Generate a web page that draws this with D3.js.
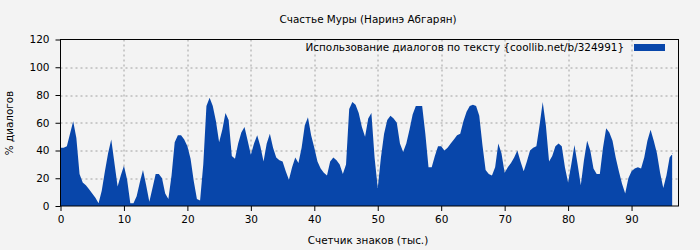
<!DOCTYPE html>
<html lang="ru">
<head>
    <meta charset="UTF-8">
    <title>Счастье Муры</title>
    <script src="https://d3js.org/d3.v7.min.js"></script>
    <style>
        body { margin: 0; background: #f3f3f3; }
        text { font-family: "DejaVu Sans", sans-serif; fill: #000; }
    </style>
</head>
<body>
<script>
    // character counter, thousands (step 0.5)
    var counter = d3.range(0, 97, 0.5);

    // share of dialogue, %
    var dialogs = [
        42, 42, 43, 52, 61, 49, 23, 17, 15, 12,
        9, 6, 2, 11, 25, 38, 48, 31, 14, 22,
        29, 19, 2, 2, 7, 17, 26, 15, 3, 13,
        23, 23, 20, 9, 5, 22, 46, 51, 51, 48,
        43, 34, 18, 5, 4, 30, 72, 78, 72, 61,
        46, 55, 67, 62, 36, 34, 45, 53, 57, 47,
        37, 45, 51, 43, 32, 45, 52, 42, 35, 33,
        32, 25, 19, 28, 35, 31, 42, 58, 64, 51,
        42, 32, 27, 24, 22, 32, 35, 33, 30, 23,
        30, 70, 75, 73, 67, 57, 50, 63, 67, 35,
        13, 35, 52, 62, 65, 63, 60, 45, 39, 45,
        55, 66, 72, 72, 72, 52, 28, 28, 36, 43,
        43, 40, 42, 45, 48, 51, 52, 61, 68, 72,
        73, 72, 65, 44, 26, 23, 22, 28, 45, 38,
        24, 28, 31, 35, 40, 32, 25, 32, 40, 42,
        43, 58, 75, 58, 32, 36, 43, 45, 43, 28,
        17, 30, 44, 30, 15, 33, 47, 40, 27, 23,
        23, 42, 56, 53, 47, 35, 25, 16, 9, 20,
        25, 27, 28, 27, 35, 47, 55, 47, 38, 24,
        13, 22, 35, 38
    ];

    var xTicks = [0, 10, 20, 30, 40, 50, 60, 70, 80, 90];
    var yTicks = [0, 20, 40, 60, 80, 100, 120];

    var title = "Счастье Муры (Наринэ Абгарян)";
    var legendLabel = "Использование диалогов по тексту {coollib.net/b/324991}";

    var margin = {top: 39.5, right: 21.5, bottom: 44, left: 60.5},
        width = 700 - margin.left - margin.right,
        height = 250 - margin.top - margin.bottom;

    var data = counter.slice(0, dialogs.length).map(function(c, i) { return [c, dialogs[i]]; });
    var lastX = 96.4;

    var xScale = d3.scaleLinear().domain([0, 97.4]).range([0, width]);
    var yScale = d3.scaleLinear().domain([0, 120]).range([height, 0]);

    var svg = d3.select("body").append("svg")
        .attr("width", 700)
        .attr("height", 250);

    var g = svg.append("g")
        .attr("transform", "translate(" + margin.left + "," + margin.top + ")");

    // grid
    g.append("g").selectAll("line")
        .data(yTicks.slice(1, -1))
        .enter().append("line")
        .attr("x1", 0).attr("x2", width)
        .attr("y1", function(d) { return Math.round(yScale(d)) + 0.5; })
        .attr("y2", function(d) { return Math.round(yScale(d)) + 0.5; })
        .attr("stroke", "#a0a0a0")
        .attr("stroke-dasharray", "2,3");

    g.append("g").selectAll("line")
        .data(xTicks.slice(1))
        .enter().append("line")
        .attr("y1", 0).attr("y2", height)
        .attr("x1", function(d) { return Math.round(xScale(d)) + 0.5; })
        .attr("x2", function(d) { return Math.round(xScale(d)) + 0.5; })
        .attr("stroke", "#a0a0a0")
        .attr("stroke-dasharray", "2,3");

    // area
    var pts = data.concat([[lastX, dialogs[dialogs.length - 1]]]);
    var area = d3.area()
        .x(function(d) { return xScale(d[0]); })
        .y0(yScale(0))
        .y1(function(d) { return yScale(d[1]); });

    g.append("path")
        .datum(pts)
        .attr("d", area)
        .attr("fill", "#0846aa");

    // frame
    g.append("rect")
        .attr("x", 0).attr("y", 0)
        .attr("width", width).attr("height", height)
        .attr("fill", "none")
        .attr("stroke", "#000");

    // axes
    var x_axis = d3.axisBottom(xScale).tickValues(xTicks).tickSize(5).tickPadding(5);
    var y_axis = d3.axisLeft(yScale).tickValues(yTicks).tickSize(5).tickPadding(6);

    g.append("g")
        .attr("transform", "translate(0," + height + ")")
        .call(x_axis)
        .call(function(s) { s.select(".domain").remove(); })
        .selectAll("text")
        .style("font-size", "10.5px")
        .style("font-family", "DejaVu Sans");

    g.append("g")
        .call(y_axis)
        .call(function(s) { s.select(".domain").remove(); })
        .selectAll("text")
        .style("font-size", "10.5px")
        .style("font-family", "DejaVu Sans");

    // title
    svg.append("text")
        .attr("x", 368)
        .attr("y", 23)
        .attr("text-anchor", "middle")
        .style("font-size", "10.4px")
        .text(title);

    // legend
    svg.append("text")
        .attr("x", 624)
        .attr("y", 51)
        .attr("text-anchor", "end")
        .style("font-size", "10.4px")
        .text(legendLabel);

    svg.append("rect")
        .attr("x", 634).attr("y", 44)
        .attr("width", 31).attr("height", 7)
        .attr("fill", "#0846aa");

    // axis labels
    svg.append("text")
        .attr("x", 368)
        .attr("y", 244)
        .attr("text-anchor", "middle")
        .style("font-size", "10.4px")
        .text("Счетчик знаков (тыс.)");

    svg.append("text")
        .attr("transform", "translate(13,123) rotate(-90)")
        .attr("text-anchor", "middle")
        .style("font-size", "10.4px")
        .text("% диалогов");
</script>
</body>
</html>
